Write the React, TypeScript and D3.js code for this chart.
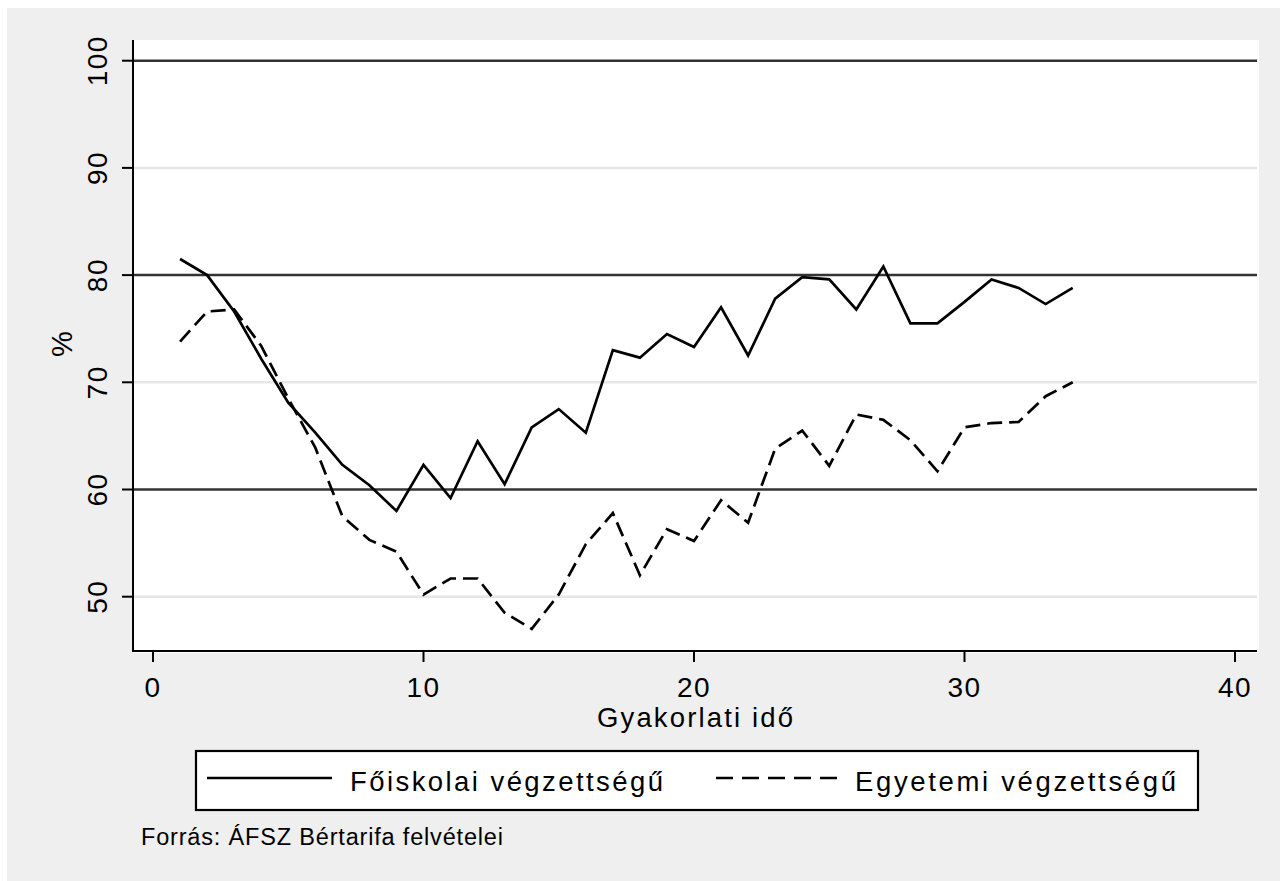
import React from "react";
import * as d3 from "d3";

const years = [1, 2, 3, 4, 5, 6, 7, 8, 9, 10, 11, 12, 13, 14, 15, 16, 17, 18, 19, 20, 21, 22, 23, 24, 25, 26, 27, 28, 29, 30, 31, 32, 33, 34];
const foiskolai = [81.5, 80.0, 76.6, 72.2, 68.1, 65.3, 62.3, 60.4, 58.0, 62.3, 59.2, 64.5, 60.5, 65.8, 67.5, 65.3, 73.0, 72.3, 74.5, 73.3, 77.0, 72.5, 77.8, 79.8, 79.6, 76.8, 80.8, 75.5, 75.5, 77.5, 79.6, 78.8, 77.3, 78.8];
const egyetemi = [73.8, 76.6, 76.8, 73.4, 68.5, 63.9, 57.5, 55.3, 54.2, 50.2, 51.7, 51.7, 48.5, 47.0, 50.2, 54.9, 57.8, 52.0, 56.3, 55.2, 59.0, 56.9, 63.8, 65.5, 62.2, 67.0, 66.5, 64.6, 61.7, 65.8, 66.2, 66.3, 68.7, 70.0];
const xTicks = [0, 10, 20, 30, 40];
const yTicks = [50, 60, 70, 80, 90, 100];
const yLines = [60, 80, 100];
const seriesNames = ["Főiskolai végzettségű", "Egyetemi végzettségű"];
const xTitle = "Gyakorlati idő";
const yTitle = "%";
const note = "Forrás: ÁFSZ Bértarifa felvételei";

export default function App() {
  const x = d3.scaleLinear().domain([0, 40]).range([153, 1235]);
  const y = d3.scaleLinear().domain([50, 100]).range([596.7, 60.7]);
  const plotL = 133, plotR = 1257, plotT = 40, plotB = 651;
  const font = "'Liberation Sans', Arial, sans-serif";

  const line = d3
    .line<number>()
    .x((_, i) => x(years[i]))
    .y((d) => y(d));

  return (
    <svg
      width={1280}
      height={881}
      style={{ position: "absolute", left: 0, top: 0 }}
      fontFamily={font}
    >
      <rect x={0} y={0} width={1280} height={881} fill="#ffffff" />
      <rect x={7} y={8} width={1273} height={873} fill="#efefef" />
      <rect x={plotL} y={plotT} width={1259 - plotL} height={653 - plotT} fill="#ffffff" />

      {/* light grid */}
      {yTicks
        .filter((t) => !yLines.includes(t))
        .map((t) => (
          <line key={"g" + t} x1={plotL} x2={plotR} y1={y(t)} y2={y(t)} stroke="#e6e6e6" strokeWidth={2.5} />
        ))}
      {/* reference lines */}
      {yLines.map((t) => (
        <line key={"r" + t} x1={plotL} x2={plotR} y1={y(t)} y2={y(t)} stroke="#333333" strokeWidth={2.5} />
      ))}

      {/* series */}
      <path d={line(foiskolai) || ""} fill="none" stroke="#000" strokeWidth={2.7} />
      <path d={line(egyetemi) || ""} fill="none" stroke="#000" strokeWidth={2.7} strokeDasharray="15 7" />

      {/* axes */}
      <line x1={plotL} x2={plotL} y1={plotT} y2={plotB + 1} stroke="#000" strokeWidth={2} />
      <line x1={plotL - 1} x2={plotR} y1={plotB} y2={plotB} stroke="#000" strokeWidth={2} />
      {yTicks.map((t) => (
        <g key={"yt" + t}>
          <line x1={122} x2={plotL} y1={y(t)} y2={y(t)} stroke="#000" strokeWidth={2} />
          <text
            transform={`translate(107,${y(t)}) rotate(-90)`}
            textAnchor="middle"
            fontSize={28}
            letterSpacing={1.5}
            fill="#000"
          >
            {t}
          </text>
        </g>
      ))}
      {xTicks.map((t) => (
        <g key={"xt" + t}>
          <line x1={x(t)} x2={x(t)} y1={plotB} y2={plotB + 11} stroke="#000" strokeWidth={2} />
          <text x={x(t)} y={697} textAnchor="middle" fontSize={28} letterSpacing={1.5} fill="#000">
            {t}
          </text>
        </g>
      ))}

      <text x={597} y={727} fontSize={27.5} textLength={196} lengthAdjust="spacing" fill="#000">
        {xTitle}
      </text>
      <text transform="translate(72,344) rotate(-90)" textAnchor="middle" fontSize={29} fill="#000">
        {yTitle}
      </text>

      {/* legend */}
      <rect x={196} y={751} width={1002} height={59} fill="#ffffff" stroke="#000" strokeWidth={2.2} />
      <line x1={207} x2={332} y1={778} y2={778} stroke="#000" strokeWidth={2.7} />
      <text x={350} y={791} fontSize={27.5} textLength={313} lengthAdjust="spacing" fill="#000">
        {seriesNames[0]}
      </text>
      <line x1={716} x2={838} y1={778} y2={778} stroke="#000" strokeWidth={2.7} strokeDasharray="17 9" />
      <text x={855} y={791} fontSize={27.5} textLength={321} lengthAdjust="spacing" fill="#000">
        {seriesNames[1]}
      </text>

      <text x={141} y={845} fontSize={23.5} textLength={362} lengthAdjust="spacing" fill="#000">
        {note}
      </text>
    </svg>
  );
}
